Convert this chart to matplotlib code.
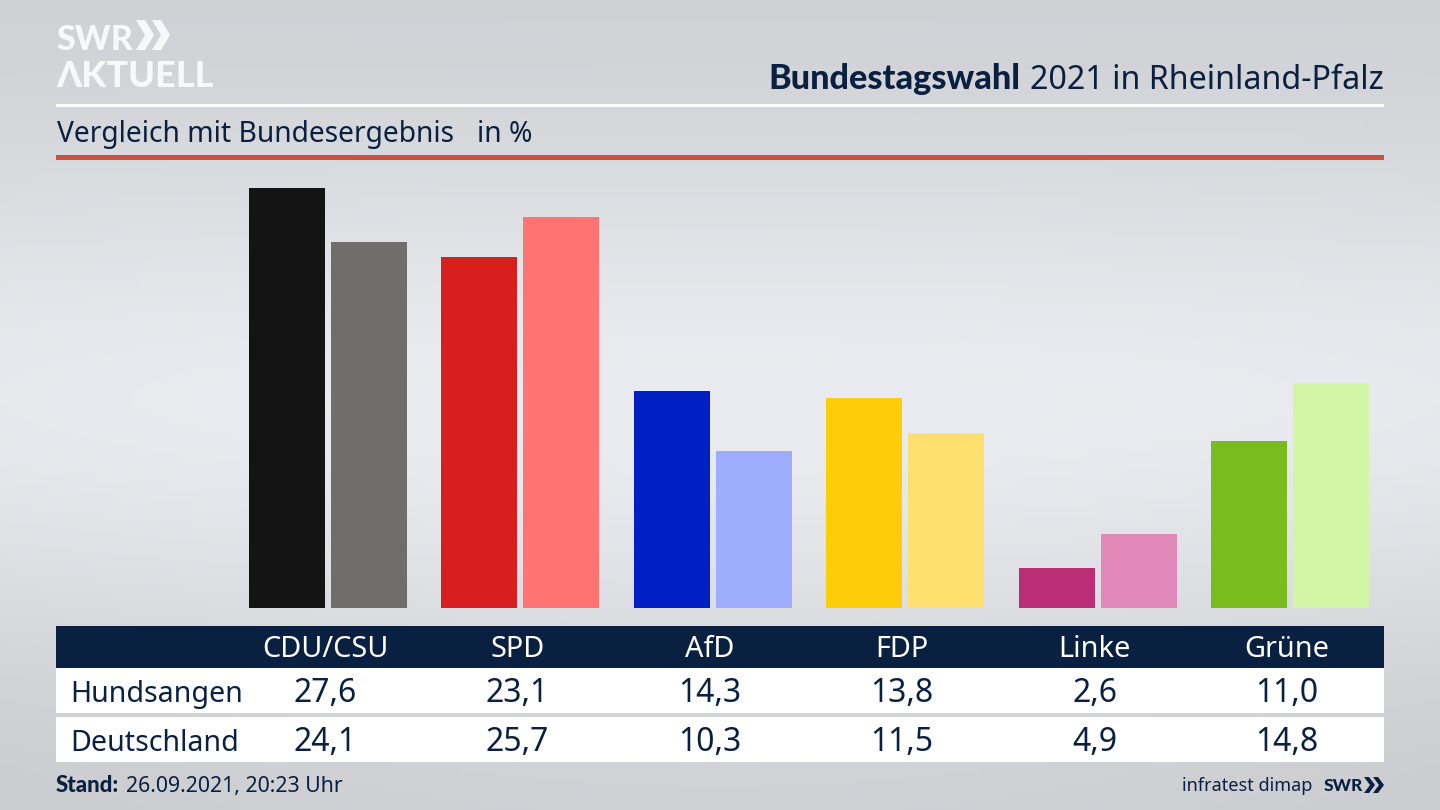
import matplotlib
matplotlib.use('Agg')
import matplotlib.pyplot as plt
import numpy as np
from matplotlib.patches import Polygon, Rectangle

parties = ['CDU/CSU', 'SPD', 'AfD', 'FDP', 'Linke', 'Grüne']
hundsangen = [27.6, 23.1, 14.3, 13.8, 2.6, 11.0]
deutschland = [24.1, 25.7, 10.3, 11.5, 4.9, 14.8]
colors_local = ['#141414', '#d81f1f', '#0020c4', '#ffcc0a', '#bc2d77', '#78bc1e']
colors_federal = ['#706e6b', '#ff7370', '#9fadff', '#fee070', '#e088b8', '#d2f6a6']
row_names = ['Hundsangen', 'Deutschland']

NAVY = '#0a2040'
FONT = 'Noto Sans'
BOLD = ['Lato', 'DejaVu Sans']


class DB_Chart():
    def __init__(self, path):
        self.path = path

    def create_graph(self):
        # Создаём фигуру и слой с координатами в пикселях
        plt.figure(figsize=(14.4, 8.1), dpi=100)
        back = plt.axes([0, 0, 1, 1])
        back.set_xlim(0, 1440)
        back.set_ylim(810, 0)
        back.axis('off')

        self._add_background(back)
        self._add_header(back)
        self._add_bars()
        self._add_table(back)
        self._add_footer(back)

        # Сохраняем изображение
        plt.savefig(self.path, dpi=100)
        plt.close()

    def _add_background(self, ax):
        """Серый фон со светлой полосой посередине."""
        y = np.linspace(0, 1, 200)
        x = np.linspace(-1, 1, 300)
        rows = 0.815 + 0.115 * np.exp(-((y - 0.5) / 0.32) ** 2)
        sides = 1 - 0.025 * x[None, :] ** 2 * y[:, None]
        grey = rows[:, None] * sides
        image = np.dstack([grey * 0.99, grey * 0.995, grey * 1.015]).clip(0, 1)
        ax.imshow(image, extent=(0, 1440, 810, 0), aspect='auto', zorder=0)

    def _add_header(self, ax):
        """Логотип, заголовок и две линии."""
        ax.text(56, 50, 'SWR', fontsize=24.5, fontweight='black', family=BOLD,
                color='#f7f8fa', ha='left', va='baseline', zorder=3)
        for left in (136, 152):  # стрелки логотипа
            ax.add_patch(Polygon([(left, 20), (left + 9, 20), (left + 18, 35),
                                  (left + 9, 50), (left, 50), (left + 9, 35)],
                                 closed=True, facecolor='#f7f8fa', zorder=3))
        ax.text(56, 87, 'ΛKTUELL', fontsize=26, fontweight='black', family=BOLD,
                color='#f7f8fa', ha='left', va='baseline', zorder=3)

        ax.text(1384, 89, '2021 in Rheinland-Pfalz', fontsize=23.2, family=FONT,
                color=NAVY, ha='right', va='baseline', zorder=3)
        ax.text(1020, 89, 'Bundestagswahl', fontsize=24.7, fontweight='black', family=BOLD,
                color=NAVY, ha='right', va='baseline', zorder=3)

        ax.add_patch(Rectangle((56, 104), 1328, 3, facecolor='white', zorder=2))
        ax.text(57, 142, 'Vergleich mit Bundesergebnis', fontsize=20.3, family=FONT,
                color=NAVY, ha='left', va='baseline', zorder=3)
        ax.text(477, 142, 'in %', fontsize=20.3, family=FONT,
                color=NAVY, ha='left', va='baseline', zorder=3)
        ax.add_patch(Rectangle((56, 155), 1328, 5, facecolor='#cc5040', zorder=2))

    def _add_bars(self):
        """Столбцы на отдельных осях, шкала подобрана под картинку."""
        ax = plt.axes([56 / 1440, (810 - 608) / 810, 1328 / 1440, 450 / 810])
        ax.patch.set_alpha(0)
        ax.axis('off')
        ax.set_xlim(-1.4137, 5.489)
        ax.set_ylim(0, 29.6)

        x = np.arange(len(parties))
        ax.bar(x - 0.213, hundsangen, width=0.395, color=colors_local)
        ax.bar(x + 0.213, deutschland, width=0.395, color=colors_federal)
        self.centers = 328 + 192.4 * x

    def _add_table(self, ax):
        """Таблица значений под столбцами."""
        ax.add_patch(Rectangle((56, 626), 1328, 42, facecolor=NAVY, zorder=2))
        ax.add_patch(Rectangle((56, 668), 1328, 45, facecolor='white', zorder=2))
        ax.add_patch(Rectangle((56, 717), 1328, 45, facecolor='white', zorder=2))

        for center, party in zip(self.centers, parties):
            ax.text(center - 3, 657, party, fontsize=20.8, family=FONT, color='white',
                    ha='center', va='baseline', zorder=3)

        rows = [(702, row_names[0], hundsangen), (751, row_names[1], deutschland)]
        for base, name, values in rows:
            ax.text(70, base, name, fontsize=20.6, family=FONT, color=NAVY,
                    ha='left', va='baseline', zorder=3)
            for center, value in zip(self.centers, values):
                label = f'{value:.1f}'.replace('.', ',')
                ax.text(center - 3, base, label, fontsize=23, family=FONT, color=NAVY,
                        ha='center', va='baseline', zorder=3)

    def _add_footer(self, ax):
        """Подвал: дата и источник."""
        ax.text(56, 792, 'Stand:', fontsize=16, fontweight='black', family=BOLD,
                color=NAVY, ha='left', va='baseline', zorder=3)
        ax.text(126, 792, '26.09.2021, 20:23 Uhr', fontsize=15.3, family=FONT,
                color=NAVY, ha='left', va='baseline', zorder=3)
        ax.text(1312, 791, 'infratest dimap', fontsize=13, family=FONT,
                color=NAVY, ha='right', va='baseline', zorder=3)
        ax.text(1324, 791, 'SWR', fontsize=12.5, fontweight='black', family=BOLD,
                color=NAVY, ha='left', va='baseline', zorder=3)
        for left in (1364, 1373):  # маленькие стрелки
            ax.add_patch(Polygon([(left, 777), (left + 5, 777), (left + 11, 785),
                                  (left + 5, 793), (left, 793), (left + 6, 785)],
                                 closed=True, facecolor=NAVY, zorder=3))


if __name__=="__main__":

    m = DB_Chart('out.png')
    m.create_graph()
